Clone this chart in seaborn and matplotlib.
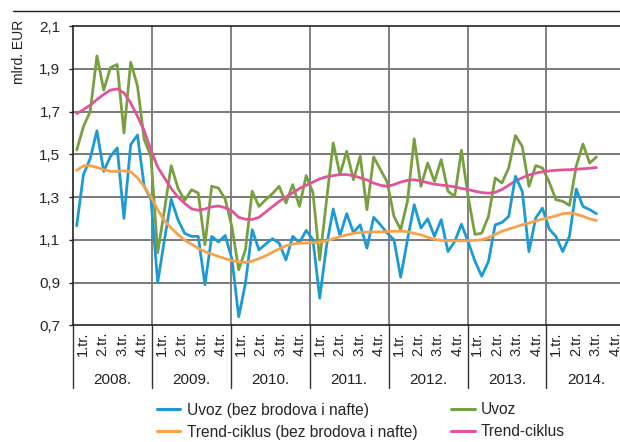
import numpy as np
import pandas as pd
import matplotlib
matplotlib.use("Agg")
import matplotlib.pyplot as plt
from matplotlib.lines import Line2D
import seaborn as sns

# ---------------- data (monthly, Jan 2008 - Jun 2014), mlrd. EUR ----------------
uvoz_bez = [1.165, 1.405, 1.48, 1.61, 1.42, 1.49, 1.53, 1.20, 1.545, 1.59, 1.35, 1.29,
            0.90, 1.10, 1.29, 1.194, 1.13, 1.116, 1.116, 0.89, 1.116, 1.09, 1.12, 1.01,
            0.74, 0.897, 1.147, 1.053, 1.08, 1.105, 1.084, 1.006, 1.116, 1.087, 1.144, 1.10,
            0.827, 1.07, 1.244, 1.119, 1.222, 1.134, 1.17, 1.061, 1.205, 1.17, 1.131, 1.10,
            0.925, 1.10, 1.264, 1.155, 1.198, 1.116, 1.194, 1.045, 1.092, 1.173, 1.09, 1.00,
            0.93, 0.998, 1.17, 1.181, 1.209, 1.397, 1.327, 1.045, 1.202, 1.248, 1.15, 1.116,
            1.045, 1.116, 1.3375, 1.256, 1.241, 1.222]
uvoz = [1.52, 1.63, 1.70, 1.96, 1.80, 1.905, 1.92, 1.60, 1.93, 1.82, 1.57, 1.49,
        1.04, 1.24, 1.447, 1.342, 1.284, 1.334, 1.319, 1.077, 1.35, 1.342, 1.29, 1.16,
        0.96, 1.053, 1.327, 1.256, 1.2875, 1.316, 1.35, 1.272, 1.358, 1.256, 1.40, 1.32,
        1.006, 1.28, 1.553, 1.405, 1.514, 1.381, 1.491, 1.241, 1.4875, 1.428, 1.37, 1.21,
        1.147, 1.28, 1.572, 1.35, 1.459, 1.373, 1.475, 1.327, 1.303, 1.519, 1.30, 1.125,
        1.131, 1.209, 1.389, 1.366, 1.436, 1.5875, 1.5375, 1.35, 1.447, 1.436, 1.37, 1.2875,
        1.28, 1.261, 1.444, 1.548, 1.459, 1.4875]
trend_bez = [1.425, 1.445, 1.447, 1.438, 1.428, 1.42, 1.42, 1.423, 1.418, 1.39, 1.35, 1.30,
             1.24, 1.19, 1.155, 1.125, 1.098, 1.08, 1.06, 1.045, 1.033, 1.022, 1.012, 1.003,
             0.996, 0.994, 1.0, 1.012, 1.025, 1.042, 1.057, 1.072, 1.08, 1.084, 1.085, 1.086,
             1.09, 1.095, 1.105, 1.115, 1.123, 1.13, 1.134, 1.136, 1.137, 1.137, 1.138, 1.14,
             1.14, 1.138, 1.13, 1.123, 1.112, 1.102, 1.097, 1.096, 1.095, 1.095, 1.096, 1.098,
             1.10, 1.11, 1.125, 1.14, 1.15, 1.16, 1.17, 1.178, 1.188, 1.197, 1.204, 1.212,
             1.222, 1.225, 1.22, 1.21, 1.198, 1.19]
trend = [1.69, 1.709, 1.73, 1.756, 1.78, 1.80, 1.806, 1.787, 1.74, 1.678, 1.61, 1.52,
         1.44, 1.39, 1.34, 1.30, 1.27, 1.245, 1.238, 1.244, 1.254, 1.258, 1.25, 1.235,
         1.205, 1.196, 1.195, 1.205, 1.23, 1.255, 1.28, 1.30, 1.32, 1.34, 1.355, 1.37,
         1.385, 1.395, 1.40, 1.405, 1.405, 1.40, 1.39, 1.38, 1.365, 1.355, 1.35, 1.358,
         1.37, 1.378, 1.381, 1.375, 1.367, 1.36, 1.356, 1.352, 1.348, 1.34, 1.335, 1.327,
         1.321, 1.318, 1.322, 1.335, 1.355, 1.375, 1.39, 1.403, 1.412, 1.418, 1.422, 1.425,
         1.427, 1.428, 1.43, 1.432, 1.435, 1.438]

series_names = ["Uvoz (bez brodova i nafte)", "Trend-ciklus (bez brodova i nafte)",
                "Uvoz", "Trend-ciklus"]
colors = ["#1b9ad6", "#f7a24b", "#77a03f", "#e0559a"]
years = ["2008.", "2009.", "2010.", "2011.", "2012.", "2013.", "2014."]
quarters = ["1.tr.", "2.tr.", "3.tr.", "4.tr."]
y_ticks = [0.7, 0.9, 1.1, 1.3, 1.5, 1.7, 1.9, 2.1]

month = np.arange(len(uvoz))
df = pd.concat([
    pd.DataFrame({"m": month, "v": vals, "s": name})
    for name, vals in zip(series_names, [uvoz_bez, trend_bez, uvoz, trend])
])

sns.set_theme(style="white")
plt.rcParams["font.family"] = ["Liberation Sans", "DejaVu Sans"]

fig = plt.figure(figsize=(6.2, 4.42), dpi=100)
ax = fig.add_axes([73 / 620, 1 - 325.3 / 442, (625.3 - 73) / 620, (325.3 - 26) / 442])

order_draw = ["Uvoz", "Trend-ciklus", "Uvoz (bez brodova i nafte)", "Trend-ciklus (bez brodova i nafte)"]
pal = dict(zip(series_names, colors))
for name in order_draw:
    sns.lineplot(data=df[df.s == name], x="m", y="v", color=pal[name], lw=2.0,
                 ax=ax, legend=False, zorder=3)

# axis geometry: monthly points, year grid slightly wider than 12 points
x0 = -0.548
year_w = 78.9 / 6.75
ax.set_xlim(x0, x0 + 7 * year_w)
ax.set_ylim(0.7, 2.1)
ax.set_yticks(y_ticks)
ax.set_yticklabels([f"{t:.1f}".replace(".", ",") for t in y_ticks], fontsize=11)
ax.set_xticks([])
ax.set_xlabel("")
ax.set_ylabel("")
ax.tick_params(axis="y", length=3, width=1, color="#222222", pad=6, left=True)

for t in y_ticks[1:-1]:
    ax.axhline(t, color="#6e6e6e", lw=1.3, zorder=1)
for i in range(1, 7):
    ax.axvline(x0 + i * year_w, color="#777777", lw=1.3, zorder=1)

for side in ["left", "top", "bottom"]:
    ax.spines[side].set_color("#222222")
    ax.spines[side].set_linewidth(1.2)
ax.spines["right"].set_visible(False)

trans = ax.get_xaxis_transform()
for i, yl in enumerate(years):
    xb = x0 + i * year_w
    ax.plot([xb, xb], [0, -0.21], transform=trans, color="#333333", lw=1.0, clip_on=False)
    ax.text(xb + year_w / 2, -0.183, yl, transform=trans, ha="center", va="center",
            fontsize=11, color="#222222")
    for q, ql in enumerate(quarters):
        ax.text(xb + (q + 0.5) * year_w / 4, -0.022, ql, transform=trans, rotation=90,
                ha="center", va="top", fontsize=10.5, color="#222222")

fig.text(12 / 620, 1 - 20 / 442, "mlrd. EUR", rotation=90, ha="left", va="top",
         fontsize=10, color="#222222")
fig.add_artist(Line2D([13 / 620, 1.0], [1 - 11 / 442, 1 - 11 / 442], color="#222222", lw=1.0))

handles = [Line2D([], [], color=c, lw=2.2) for c in colors]
fig.legend(handles, series_names, ncol=2, loc="center", bbox_to_anchor=(361 / 620, 1 - 421 / 442),
           frameon=False, fontsize=11.2, handlelength=1.5, handletextpad=0.4,
           columnspacing=2.2, labelspacing=0.45)

fig.savefig("out.png", dpi=100)
